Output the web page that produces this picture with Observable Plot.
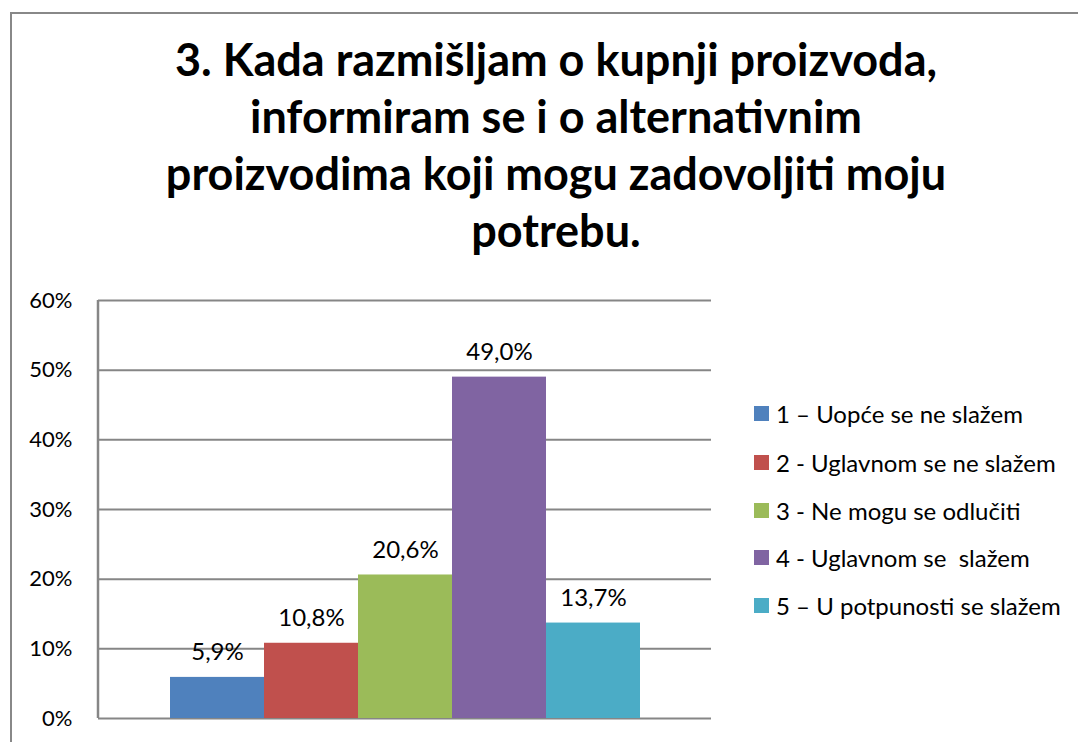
<!DOCTYPE html>
<html><head><meta charset="utf-8">
<script src="https://cdn.jsdelivr.net/npm/d3@7"></script>
<script src="https://cdn.jsdelivr.net/npm/@observablehq/plot@0.6"></script>
<style>
html,body{margin:0;padding:0;width:1078px;height:742px;overflow:hidden;background:#fff;font-family:Lato,"Open Sans",sans-serif;color:#000;}
#frame{position:absolute;left:10px;top:12px;width:1200px;height:900px;border:2px solid #888;box-sizing:border-box;}
#title{position:absolute;left:56px;width:1000px;top:31px;text-align:center;font-weight:bold;font-size:45px;line-height:57px;}
#chart{position:absolute;left:0;top:280px;}
#legend{position:absolute;left:754px;top:0;}
.lg{position:absolute;left:0;display:flex;align-items:center;white-space:pre;font-size:24px;height:30px;}
.sw{width:15px;height:15px;margin-right:7px;flex:none;}
</style></head>
<body>
<div id="frame"></div>
<div id="title">3. Kada razmišljam o kupnji proizvoda,<br>informiram se i o alternativnim<br>proizvodima koji mogu zadovoljiti moju<br>potrebu.</div>
<div id="chart"></div>
<div id="legend"></div>
<script>
const categories = ["1 – Uopće se ne slažem","2 - Uglavnom se ne slažem","3 - Ne mogu se odlučiti","4 - Uglavnom se  slažem","5 – U potpunosti se slažem"];
const values = [0.059, 0.108, 0.206, 0.490, 0.137];
const colors = ["#4F81BD","#C0504D","#9BBB59","#8064A2","#4BACC6"];
const yTicks = [0, 0.1, 0.2, 0.3, 0.4, 0.5, 0.6];

const data = categories.map((c, i) => ({cat: c, value: values[i]}));
const fmt = v => (v * 100).toFixed(1).replace(".", ",") + "%";

const leftLine = (index, scales, values, dims) => {
  const g = d3.create("svg:line")
    .attr("x1", dims.marginLeft).attr("x2", dims.marginLeft)
    .attr("y1", scales.y(0)).attr("y2", scales.y(0.6))
    .attr("stroke", "#868686").attr("stroke-width", 2.5);
  return g.node();
};

const chart = Plot.plot({
  width: 1078, height: 462,
  marginLeft: 98, marginRight: 367, marginTop: 20, marginBottom: 24,
  style: {fontFamily: "Lato, 'Open Sans', sans-serif", background: "transparent", overflow: "visible"},
  x: {domain: categories, paddingInner: 0, paddingOuter: 0.74, axis: null},
  y: {domain: [0, 0.6], axis: null},
  color: {domain: categories, range: colors},
  marks: [
    Plot.ruleY(yTicks, {stroke: "#868686", strokeWidth: 2}),
    Plot.axisY(yTicks, {tickSize: 0, tickPadding: 26, tickFormat: d => Math.round(d * 100) + "%", fontSize: 22, fill: "#000", label: null}),
    Plot.barY(data, {x: "cat", y: "value", fill: "cat", inset: 0}),
    leftLine,
    Plot.text(data, {x: "cat", y: "value", text: d => fmt(d.value), dy: -17, lineAnchor: "bottom", fontSize: 24, fill: "#000"})
  ]
});
document.getElementById("chart").appendChild(chart);

const legend = document.getElementById("legend");
const rowCenters = [413, 462, 510, 557, 605];
categories.forEach((c, i) => {
  const row = document.createElement("div");
  row.className = "lg";
  row.style.top = (rowCenters[i] - 15) + "px";
  const sw = document.createElement("div");
  sw.className = "sw";
  sw.style.background = colors[i];
  const t = document.createElement("span");
  t.textContent = c;
  row.appendChild(sw); row.appendChild(t);
  legend.appendChild(row);
});
</script>
</body></html>
